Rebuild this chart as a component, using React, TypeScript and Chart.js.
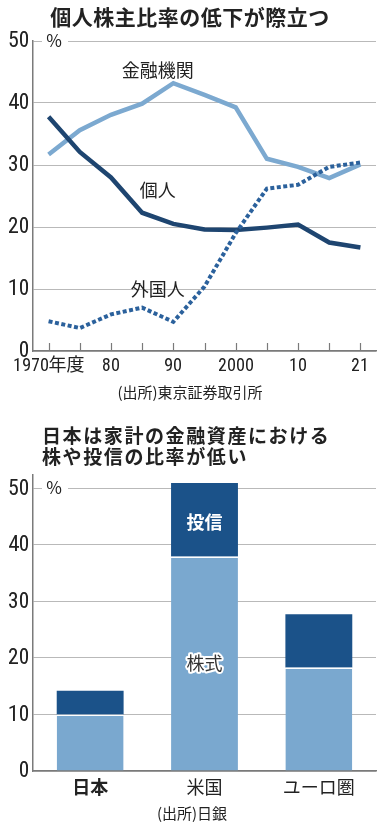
import React, { useEffect, useRef } from "react";
import { Chart, registerables } from "chart.js";
Chart.register(...registerables);

// ---- line chart data ----
const years = ["1970", "1975", "1980", "1985", "1990", "1995", "2000", "2005", "2010", "2015", "2021"];
const yearTickLabels = ["1970年度", "", "80", "", "90", "", "2000", "", "10", "", "21"];
const financialInst = [31.7, 35.6, 38.1, 39.9, 43.2, 41.3, 39.3, 31.0, 29.7, 27.9, 30.1];
const individuals = [37.8, 32.1, 28.0, 22.3, 20.5, 19.6, 19.5, 19.9, 20.4, 17.5, 16.7];
const foreigners = [4.8, 3.7, 5.9, 7.0, 4.7, 10.4, 19.0, 26.2, 26.8, 29.7, 30.4];
const lineYTicks = [0, 10, 20, 30, 40, 50];

// ---- bar chart data ----
const regions = ["日本", "米国", "ユーロ圏"];
const stockShare = [10.0, 37.9, 18.3];
const fundShare = [4.2, 13.0, 9.4];
const barYTicks = [0, 10, 20, 30, 40, 50];

const COND_FONT = '"CondNum", "Noto Sans CJK JP", sans-serif';
const JP_FONT = '"Noto Sans CJK JP", "Noto Sans", sans-serif';
const TEXT = "#222222";
const AXIS = "#7a7a7a";
const GRID = "#b9b9b9";

const percentPlugin = {
  id: "percentMark",
  afterDraw(chart: any) {
    const ctx = chart.ctx;
    const y = chart.scales.y.getPixelForValue(50);
    ctx.save();
    ctx.fillStyle = "#ffffff";
    ctx.fillRect(42, y - 2, 26, 4);
    ctx.fillStyle = TEXT;
    ctx.font = `17px ${JP_FONT}`;
    ctx.textAlign = "center";
    ctx.textBaseline = "middle";
    ctx.fillText("%", 54, y);
    ctx.restore();
  },
};

const innerTicksPlugin = {
  id: "innerTicks",
  afterDatasetsDraw(chart: any) {
    const ctx = chart.ctx;
    const xs = chart.scales.x;
    const bottom = chart.chartArea.bottom;
    ctx.save();
    ctx.strokeStyle = AXIS;
    ctx.lineWidth = 1.2;
    for (let i = 0; i < years.length; i++) {
      const x = Math.round(xs.getPixelForValue(i)) + 0.5;
      ctx.beginPath();
      ctx.moveTo(x, bottom);
      ctx.lineTo(x, bottom - 8);
      ctx.stroke();
    }
    ctx.restore();
  },
};

const lineLabelsPlugin = {
  id: "lineLabels",
  afterDraw(chart: any) {
    const ctx = chart.ctx;
    const xs = chart.scales.x;
    const ys = chart.scales.y;
    const items: [string, number, number][] = [
      ["金融機関", 3.5, 45.3],
      ["個人", 3.5, 25.9],
      ["外国人", 3.5, 10.0],
    ];
    ctx.save();
    ctx.fillStyle = TEXT;
    ctx.font = `18px ${JP_FONT}`;
    ctx.textAlign = "center";
    ctx.textBaseline = "middle";
    for (const [t, xi, yv] of items) {
      ctx.fillText(t, xs.getPixelForValue(xi), ys.getPixelForValue(yv));
    }
    ctx.restore();
  },
};

const barLabelsPlugin = {
  id: "barLabels",
  afterDatasetsDraw(chart: any) {
    const ctx = chart.ctx;
    const idx = 1; // 米国
    const m0 = chart.getDatasetMeta(0).data[idx];
    const m1 = chart.getDatasetMeta(1).data[idx];
    ctx.save();
    ctx.textAlign = "center";
    ctx.textBaseline = "middle";
    ctx.font = `bold 18px ${JP_FONT}`;
    ctx.fillStyle = "#ffffff";
    ctx.fillText("投信", m1.x, (m1.y + m1.base) / 2 + 2);
    ctx.font = `18px ${JP_FONT}`;
    ctx.lineWidth = 4;
    ctx.lineJoin = "round";
    ctx.strokeStyle = "#ffffff";
    const sy = (m0.y + m0.base) / 2;
    ctx.strokeText("株式", m0.x, sy);
    ctx.fillStyle = "#333333";
    ctx.fillText("株式", m0.x, sy);
    ctx.restore();
  },
};

function ensureCondFont(): Promise<any> {
  if (!document.getElementById("condnum-face")) {
    const st = document.createElement("style");
    st.id = "condnum-face";
    st.textContent =
      '@font-face{font-family:"CondNum";src:local("Liberation Sans Narrow"),local("LiberationSansNarrow-Regular"),local("LiberationSansNarrow"),local("Roboto Condensed"),local("RobotoCondensed-Regular"),local("DejaVu Sans Condensed"),local("DejaVuSansCondensed");}';
    document.head.appendChild(st);
  }
  try {
    return document.fonts.load('17px "CondNum"', "1970").catch(() => null);
  } catch (e) {
    return Promise.resolve(null);
  }
}

export default function App() {
  const lineRef = useRef<HTMLCanvasElement>(null);
  const barRef = useRef<HTMLCanvasElement>(null);

  useEffect(() => {
    let cancelled = false;
    let lineChart: any = null;
    let barChart: any = null;

    const build = () => {
      if (cancelled || !lineRef.current || !barRef.current) return;
      lineChart = new Chart(lineRef.current, {
        type: "line",
        data: {
          labels: years,
          datasets: [
            {
              label: "外国人",
              data: foreigners,
              borderColor: "#2b619c",
              borderWidth: 4,
              borderDash: [4, 2.5],
              borderCapStyle: "butt",
              pointRadius: 0,
              tension: 0,
            },
            {
              label: "個人",
              data: individuals,
              borderColor: "#1e4570",
              borderWidth: 4.5,
              pointRadius: 0,
              tension: 0,
            },
            {
              label: "金融機関",
              data: financialInst,
              borderColor: "#7ca9d0",
              borderWidth: 4.5,
              pointRadius: 0,
              tension: 0,
            },
          ],
        },
        options: {
          responsive: false,
          animation: false,
          layout: { padding: { top: 41, right: 4, left: 0, bottom: 0 } },
          plugins: { legend: { display: false }, tooltip: { enabled: false } },
          scales: {
            x: {
              offset: true,
              grid: { display: true, drawOnChartArea: false, drawTicks: false },
              border: { display: true, color: AXIS, width: 1.5 },
              ticks: {
                autoSkip: false,
                maxRotation: 0,
                padding: 4,
                color: TEXT,
                font: { family: COND_FONT, size: 18 },
                callback: (_v: any, i: number) => yearTickLabels[i],
              },
              afterFit: (s: any) => {
                s.height = 49;
              },
            },
            y: {
              min: 0,
              max: 50,
              afterBuildTicks: (s: any) => {
                s.ticks = lineYTicks.map((v) => ({ value: v }));
              },
              grid: { color: GRID, lineWidth: 1, drawTicks: false },
              border: { display: true, color: AXIS, width: 1.5 },
              ticks: {
                padding: 3,
                color: TEXT,
                font: { family: COND_FONT, size: 22 },
              },
              afterFit: (s: any) => {
                s.width = 33;
              },
            },
          },
        },
        plugins: [innerTicksPlugin, percentPlugin, lineLabelsPlugin],
      } as any);

      barChart = new Chart(barRef.current, {
        type: "bar",
        data: {
          labels: regions,
          datasets: [
            {
              label: "株式",
              data: stockShare,
              backgroundColor: "#7aa8cf",
              borderColor: "#ffffff",
              borderWidth: { top: 1.5, left: 0, right: 0, bottom: 0 },
              borderSkipped: false,
              barPercentage: 0.585,
              categoryPercentage: 1,
            },
            {
              label: "投信",
              data: fundShare,
              backgroundColor: "#1b5289",
              borderWidth: 0,
              barPercentage: 0.585,
              categoryPercentage: 1,
            },
          ],
        },
        options: {
          responsive: false,
          animation: false,
          layout: { padding: { top: 75, right: 4, left: 0, bottom: 0 } },
          plugins: { legend: { display: false }, tooltip: { enabled: false } },
          scales: {
            x: {
              stacked: true,
              grid: { display: true, drawOnChartArea: false, drawTicks: false },
              border: { display: true, color: AXIS, width: 1.5 },
              ticks: {
                padding: 5,
                color: TEXT,
                font: (c: any) => ({
                  family: JP_FONT,
                  size: 18,
                  weight: c.index === 0 ? "bold" : "normal",
                }),
              },
              afterFit: (s: any) => {
                s.height = 54;
              },
            },
            y: {
              stacked: true,
              min: 0,
              max: 52.3,
              afterBuildTicks: (s: any) => {
                s.ticks = barYTicks.map((v) => ({ value: v }));
              },
              grid: { color: GRID, lineWidth: 1, drawTicks: false },
              border: { display: true, color: AXIS, width: 1.5 },
              ticks: {
                padding: 3,
                color: TEXT,
                font: { family: COND_FONT, size: 22 },
              },
              afterFit: (s: any) => {
                s.width = 33;
              },
            },
          },
        },
        plugins: [percentPlugin, barLabelsPlugin],
      } as any);
    };

    ensureCondFont().then(build, build);

    return () => {
      cancelled = true;
      if (lineChart) lineChart.destroy();
      if (barChart) barChart.destroy();
    };
  }, []);

  const abs = (top: number, extra: React.CSSProperties): React.CSSProperties => ({
    position: "absolute",
    top,
    whiteSpace: "nowrap",
    color: TEXT,
    fontFamily: JP_FONT,
    ...extra,
  });

  return (
    <div style={{ position: "absolute", left: 0, top: 0, width: 380, height: 825, background: "#ffffff", overflow: "hidden" }}>
      <canvas ref={lineRef} width={380} height={400} style={{ position: "absolute", left: 0, top: 0, width: 380, height: 400 }} />
      <canvas ref={barRef} width={380} height={425} style={{ position: "absolute", left: 0, top: 400, width: 380, height: 425 }} />
      <div style={abs(2, { left: 0, width: 380, textAlign: "center", fontSize: 21, fontWeight: "bold", lineHeight: "28px", letterSpacing: 0.5 })}>
        個人株主比率の低下が際立つ
      </div>
      <div style={abs(382, { left: 0, width: 380, textAlign: "center", fontSize: 15, lineHeight: "20px" })}>
        (出所)東京証券取引所
      </div>
      <div style={abs(424, { left: 42, fontSize: 19, fontWeight: "bold", lineHeight: "21px", letterSpacing: 1.6 })}>
        日本は家計の金融資産における
        <br />
        株や投信の比率が低い
      </div>
      <div style={abs(803, { left: 0, width: 384, textAlign: "center", fontSize: 15, lineHeight: "20px" })}>
        (出所)日銀
      </div>
    </div>
  );
}
